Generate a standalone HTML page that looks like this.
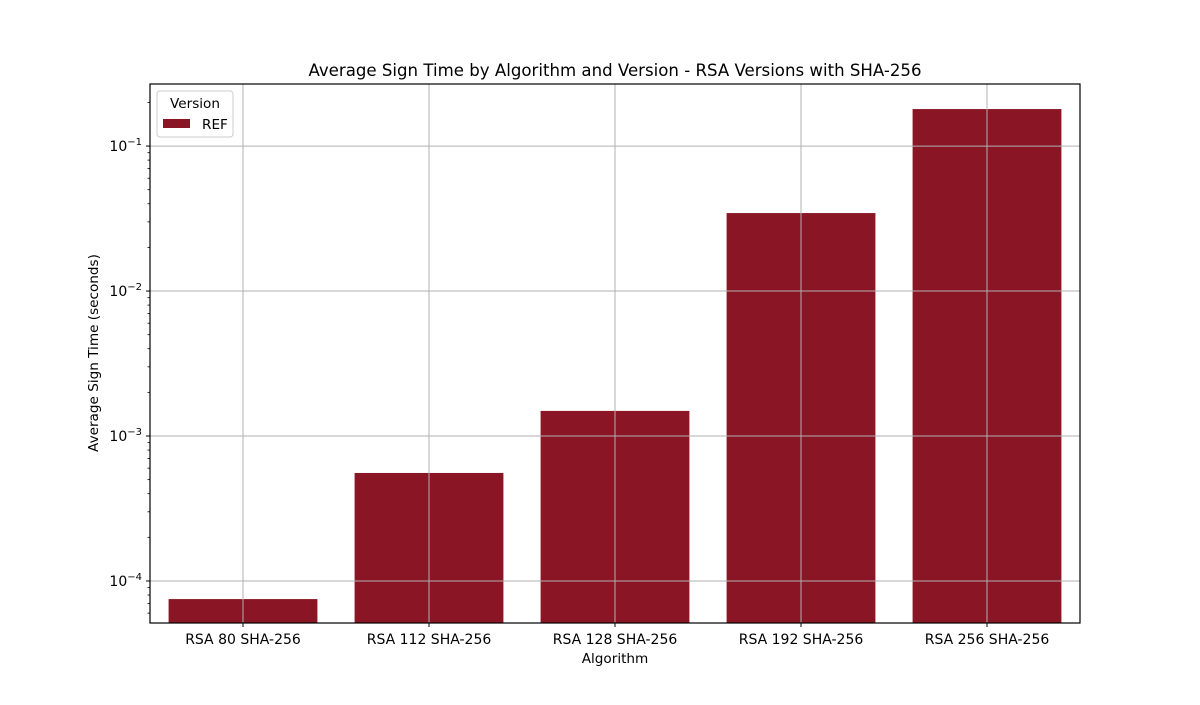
<!DOCTYPE html>
<html><head><meta charset="utf-8"><style>
body{margin:0;background:#fff}
svg text{font-family:"DejaVu Sans","Liberation Sans",sans-serif;fill:#000}
</style></head><body>
<svg width="1200" height="700" xmlns="http://www.w3.org/2000/svg">
<rect width="1200" height="700" fill="#fff"/>
<g id="bars"></g><g id="grid"></g><g id="ticks"></g>
<rect x="150" y="84" width="930" height="539" fill="none" stroke="#000" stroke-width="1.2"/>
<text x="615" y="76" font-size="16.6" text-anchor="middle">Average Sign Time by Algorithm and Version - RSA Versions with SHA-256</text>
<text x="615" y="663" font-size="13.6" text-anchor="middle">Algorithm</text>
<text transform="translate(98,353) rotate(-90)" font-size="13.6" text-anchor="middle">Average Sign Time (seconds)</text>
<g>
<rect x="157" y="91" width="76" height="46" rx="3" fill="#fff" fill-opacity="0.8" stroke="#ccc"/>
<text x="195" y="108" font-size="13.6" text-anchor="middle">Version</text>
<rect x="163" y="119" width="27" height="9" fill="#8a1524"/>
<text x="202" y="129" font-size="13.6">REF</text>
</g>
</svg>
<script>
const categories=["RSA 80 SHA-256","RSA 112 SHA-256","RSA 128 SHA-256","RSA 192 SHA-256","RSA 256 SHA-256"];
const refValues=[7.5e-5,5.56e-4,1.49e-3,0.0345,0.18];
const yTickExps=[-4,-3,-2,-1];
const NS="http://www.w3.org/2000/svg";
const L=150,R=1080,T=84,B=623;
const yMin=Math.log10(5.13e-5),yMax=Math.log10(0.268);
function y(v){return B-(Math.log10(v)-yMin)/(yMax-yMin)*(B-T);}
const step=(R-L)/categories.length;
function xc(i){return L+step*(i+0.5);}
function mk(t,a,p){const e=document.createElementNS(NS,t);for(const k in a)e.setAttribute(k,a[k]);p.appendChild(e);return e;}
const gb=document.getElementById('bars'),gg=document.getElementById('grid'),gt=document.getElementById('ticks');
const bw=step*0.8;
refValues.forEach((v,i)=>{
 const r=mk('rect',{x:xc(i)-bw/2,y:y(v),width:bw,height:B-y(v),fill:'#8a1524'},gb);
 
 
 const g=mk('line',{x1:xc(i),x2:xc(i),y1:T,y2:B,stroke:'#b0b0b0','stroke-width':1},gg);
 
 
 mk('line',{x1:xc(i),x2:xc(i),y1:B,y2:B+4,stroke:'#000'},gt);
 const t=mk('text',{x:xc(i),y:B+21,'font-size':14,'text-anchor':'middle'},gt);
 t.textContent=categories[i];
 
 
});
yTickExps.forEach(e=>{
 const yy=y(Math.pow(10,e));
 const g=mk('line',{x1:L,x2:R,y1:yy,y2:yy,stroke:'#b0b0b0','stroke-width':1},gg);
 
 
 mk('line',{x1:L-4,x2:L,y1:yy,y2:yy,stroke:'#000'},gt);
 const t=mk('text',{x:L-8,y:yy+5,'font-size':14,'text-anchor':'end'},gt);
 t.innerHTML='10<tspan font-size="10" dy="-6">\u2212'+(-e)+'</tspan>';
 
 
});
for(let e=-5;e<=0;e++)for(let m=2;m<=9;m++){const v=m*Math.pow(10,e);const yy=y(v);if(yy>=T&&yy<=B)mk('line',{x1:L-2.5,x2:L,y1:yy,y2:yy,stroke:'#000','stroke-width':0.8},gt);}
</script>
</body></html>
